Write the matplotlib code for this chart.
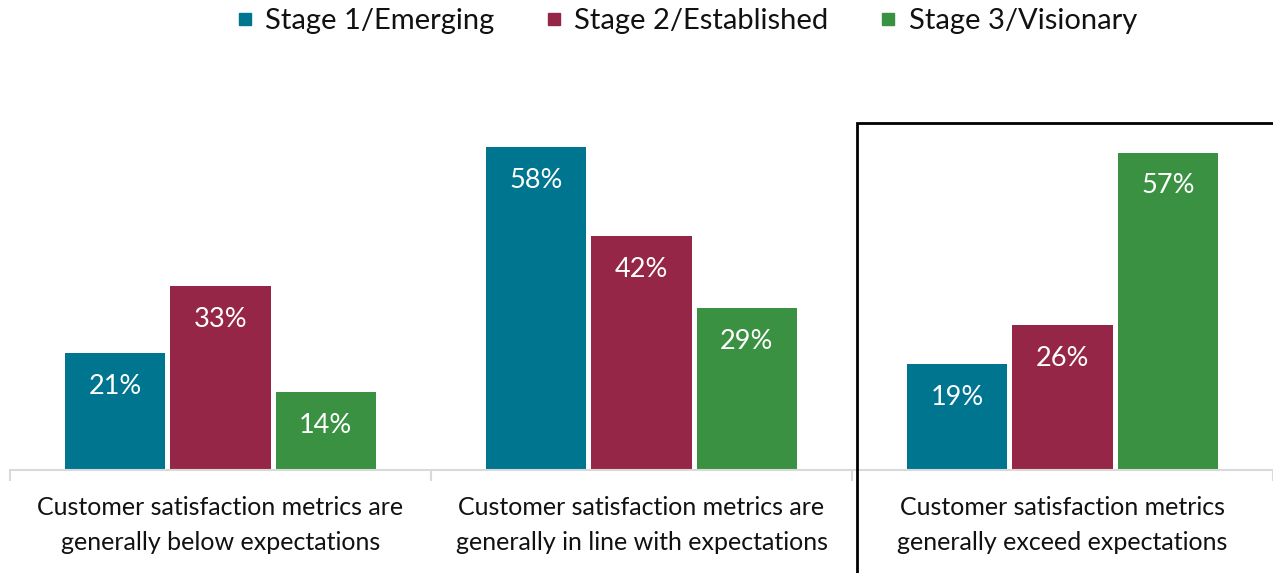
import matplotlib
matplotlib.use("Agg")
import matplotlib.pyplot as plt
import numpy as np
from matplotlib.lines import Line2D
from matplotlib.patches import Rectangle

plt.rcParams['font.family'] = ['Lato', 'DejaVu Sans']

categories = ["Customer satisfaction metrics are\ngenerally below expectations",
              "Customer satisfaction metrics are\ngenerally in line with expectations",
              "Customer satisfaction metrics\ngenerally exceed expectations"]
series = ["Stage 1/Emerging", "Stage 2/Established", "Stage 3/Visionary"]
stage1 = [21, 58, 19]
stage2 = [33, 42, 26]
stage3 = [14, 29, 57]
colors = ["#00758F", "#962648", "#3A9142"]

W, H = 1273, 573
fig = plt.figure(figsize=(W/100, H/100), dpi=100)
ax = fig.add_axes([10/W, 1-470/H, (W-10)/W, 347/H])

x = np.arange(len(categories))
offsets = [-0.25, 0, 0.25]
for vals, off, col in zip([stage1, stage2, stage3], offsets, colors):
    bars = ax.bar(x + off, vals, width=0.238, color=col, zorder=2)
    for b, v in zip(bars, vals):
        ax.annotate(f"{v}%", (b.get_x() + b.get_width()/2, v), xytext=(0, -24),
                    textcoords="offset points", ha="center", va="center",
                    color="white", fontsize=19.5)

ax.set_xlim(-0.5, 2.5)
ax.set_ylim(0, 62.3)
ax.set_yticks([])
for s in ["top", "right", "left"]:
    ax.spines[s].set_visible(False)
ax.spines["bottom"].set_color("#d9d9d9")
ax.spines["bottom"].set_linewidth(1.5)
ax.set_xticks(x)
ax.set_xticklabels(categories, fontsize=18, linespacing=1.6, color="#111111")
ax.tick_params(axis="x", which="major", length=0, pad=19)
ax.set_xticks([-0.5, 0.5, 1.5, 2.5], minor=True)
ax.tick_params(axis="x", which="minor", length=8, width=1.5, color="#d9d9d9")

handles = [Line2D([], [], marker="s", linestyle="none", markersize=9, color=c) for c in colors]
fig.legend(handles, series, loc="center", bbox_to_anchor=(685/W, 1-21/H), ncol=3,
           frameon=False, fontsize=21, handletextpad=0.3, columnspacing=1.65, handlelength=0.8,
           labelcolor="#111111")

rect = Rectangle((857/W, -0.05), 0.5, 1-123/H + 0.05, transform=fig.transFigure,
                 fill=False, edgecolor="black", linewidth=2, clip_on=False)
fig.patches.append(rect)

fig.savefig("out.png", dpi=100)
